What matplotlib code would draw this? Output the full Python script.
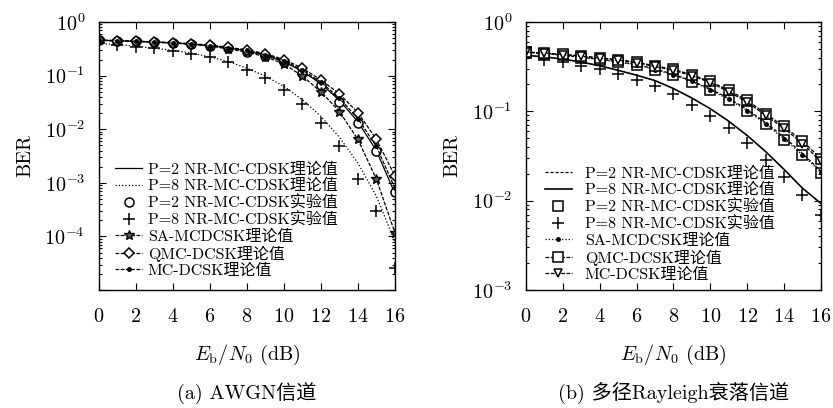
import numpy as np
import matplotlib
matplotlib.use("Agg")
import matplotlib.pyplot as plt
from matplotlib.ticker import LogLocator, NullFormatter


# fonts: computer modern for latin, CJK font as fallback
plt.rcParams['mathtext.fontset'] = 'cm'
plt.rcParams['font.family'] = ['cmr10', 'Noto Sans CJK SC']
plt.rcParams['axes.formatter.use_mathtext'] = True
plt.rcParams['axes.unicode_minus'] = False


# Eb/N0 (dB)
snr = list(range(0, 17))

# (a) AWGN channel
awgn_p2_theory = [0.457, 0.447, 0.437, 0.422, 0.407, 0.389, 0.363, 0.331, 0.288, 0.240, 0.182, 0.120, 0.0708, 0.0347, 0.0138, 0.00398, 0.000631]
awgn_p8_theory = [0.398, 0.380, 0.355, 0.324, 0.295, 0.263, 0.224, 0.182, 0.138, 0.0977, 0.0631, 0.0355, 0.0174, 0.00708, 0.00234, 0.000562, 0.0000794]
awgn_p2_sim = [0.457, 0.447, 0.437, 0.422, 0.407, 0.389, 0.359, 0.324, 0.282, 0.234, 0.178, 0.110, 0.0661, 0.0324, 0.0129, 0.00389, 0.000676]
awgn_p8_sim = [0.398, 0.380, 0.347, 0.324, 0.288, 0.257, 0.219, 0.176, 0.130, 0.0891, 0.0537, 0.0295, 0.0129, 0.00490, 0.00120, 0.000302, 0.0000263]
awgn_sa = [0.457, 0.447, 0.437, 0.422, 0.407, 0.385, 0.355, 0.316, 0.275, 0.224, 0.166, 0.0977, 0.0501, 0.0214, 0.00646, 0.00117, 0.000117]
awgn_qmc = [0.457, 0.452, 0.442, 0.427, 0.412, 0.394, 0.372, 0.339, 0.302, 0.257, 0.200, 0.138, 0.0832, 0.0457, 0.0204, 0.00646, 0.00135]
awgn_mc = [0.457, 0.447, 0.437, 0.422, 0.407, 0.389, 0.363, 0.331, 0.295, 0.245, 0.191, 0.126, 0.0759, 0.0380, 0.0158, 0.00479, 0.000794]

# (b) multipath Rayleigh fading channel
ray_p2_theory = [0.461, 0.445, 0.427, 0.403, 0.385, 0.359, 0.335, 0.299, 0.260, 0.219, 0.178, 0.140, 0.105, 0.0750, 0.0513, 0.0339, 0.0214]
ray_p8_theory = [0.424, 0.407, 0.385, 0.356, 0.324, 0.288, 0.254, 0.221, 0.180, 0.141, 0.107, 0.0776, 0.0537, 0.0355, 0.0224, 0.0138, 0.00933]
ray_p2_sim = [0.461, 0.443, 0.424, 0.398, 0.380, 0.355, 0.331, 0.292, 0.254, 0.214, 0.172, 0.135, 0.100, 0.0714, 0.0482, 0.0321, 0.0204]
ray_p8_sim = [0.398, 0.380, 0.355, 0.324, 0.295, 0.260, 0.226, 0.191, 0.155, 0.119, 0.0891, 0.0646, 0.0447, 0.0288, 0.0186, 0.0117, 0.00692]
ray_sa = [0.461, 0.444, 0.425, 0.400, 0.381, 0.356, 0.332, 0.294, 0.256, 0.216, 0.174, 0.136, 0.102, 0.0724, 0.0490, 0.0326, 0.0208]
ray_qmc = [0.461, 0.450, 0.435, 0.417, 0.398, 0.380, 0.355, 0.324, 0.295, 0.257, 0.216, 0.172, 0.133, 0.0942, 0.0679, 0.0466, 0.0295]
ray_mc = [0.461, 0.449, 0.433, 0.414, 0.394, 0.375, 0.350, 0.318, 0.288, 0.251, 0.210, 0.166, 0.127, 0.0902, 0.0646, 0.0437, 0.0275]

labels = ["P=2 NR-MC-CDSK理论值", "P=8 NR-MC-CDSK理论值",
          "P=2 NR-MC-CDSK实验值", "P=8 NR-MC-CDSK实验值",
          "SA-MCDCSK理论值", "QMC-DCSK理论值", "MC-DCSK理论值"]

awgn_yticks = [1e-5, 1e-4, 1e-3, 1e-2, 1e-1, 1e0]
awgn_yticklabels = ["", "$10^{-4}$", "$10^{-3}$", "$10^{-2}$", "$10^{-1}$", "$10^{0}$"]
ray_yticks = [1e-3, 1e-2, 1e-1, 1e0]
ray_yticklabels = ["$10^{-3}$", "$10^{-2}$", "$10^{-1}$", "$10^{0}$"]

DASH = (0, (3, 1.2))
LW = 0.9


fig = plt.figure(figsize=(8.33, 4.08), dpi=100)
ax1 = fig.add_axes([0.1188, 0.289, 0.3553, 0.657])
ax2 = fig.add_axes([0.6315, 0.289, 0.354, 0.657])


# --- (a) AWGN --- #
ax1.plot(snr, awgn_p2_theory, color="k", lw=LW, ls="-", label=labels[0])
ax1.plot(snr, awgn_p8_theory, color="k", lw=LW, ls=":", label=labels[1])
ax1.plot(snr, awgn_p2_sim, color="k", ls="none", marker="o", ms=6.5, mfc="white", mew=1.1, label=labels[2])
ax1.plot(snr, awgn_p8_sim, color="k", ls="none", marker="+", ms=8, mew=1.1, label=labels[3])
ax1.plot(snr, awgn_sa, color="k", lw=LW, ls=DASH, marker="*", ms=7.5, mfc="0.35", mew=1.0, label=labels[4])
ax1.plot(snr, awgn_qmc, color="k", lw=LW, ls=DASH, marker="D", ms=5.5, mfc="white", mew=1.1, label=labels[5])
ax1.plot(snr, awgn_mc, color="k", lw=LW, ls=DASH, marker=".", ms=5, label=labels[6])

ax1.set_yscale("log")
ax1.set_ylim(1e-5, 1)
ax1.set_yticks(awgn_yticks, labels=awgn_yticklabels)

ax1.legend(loc="lower left", bbox_to_anchor=(0.054, 0.045), frameon=False,
           fontsize=11.5, labelspacing=0.12, handlelength=1.7, handletextpad=0.35,
           borderpad=0, borderaxespad=0, numpoints=1)


# --- (b) Rayleigh --- #
ax2.plot(snr, ray_p2_theory, color="k", lw=LW, ls=(0, (2.5, 1.5)), label=labels[0])
ax2.plot(snr, ray_p8_theory, color="k", lw=1.2, ls="-", label=labels[1])
ax2.plot(snr, ray_p2_sim, color="k", ls="none", marker="s", ms=6.5, mfc="none", mew=1.1, label=labels[2])
ax2.plot(snr, ray_p8_sim, color="k", ls="none", marker="+", ms=8, mew=1.1, label=labels[3])
ax2.plot(snr, ray_sa, color="k", lw=LW, ls=":", marker=".", ms=5, label=labels[4])
ax2.plot(snr, ray_qmc, color="k", lw=LW, ls=DASH, marker="s", ms=6.5, mfc="white", mew=1.1, label=labels[5])
ax2.plot(snr, ray_mc, color="k", lw=LW, ls=DASH, marker="v", ms=6, mfc="white", mew=1.1, label=labels[6])

ax2.set_yscale("log")
ax2.set_ylim(1e-3, 1)
ax2.set_yticks(ray_yticks, labels=ray_yticklabels)

ax2.legend(loc="lower left", bbox_to_anchor=(0.064, 0.03), frameon=False,
           fontsize=11.5, labelspacing=0.12, handlelength=1.7, handletextpad=0.8,
           borderpad=0, borderaxespad=0, numpoints=1)


# common axis styling
for ax in (ax1, ax2):
    ax.set_xlim(0, 16)
    ax.set_xticks(range(0, 17, 2))
    ax.yaxis.set_minor_locator(LogLocator(base=10, subs=range(2, 10), numticks=20))
    ax.yaxis.set_minor_formatter(NullFormatter())
    ax.tick_params(which="both", direction="in", top=True, right=True, width=0.8)
    ax.tick_params(which="major", length=5)
    ax.tick_params(which="minor", length=2.5)
    ax.tick_params(axis="x", labelsize=14.5, pad=13)
    ax.tick_params(axis="y", labelsize=14.5, pad=10)
    for s in ax.spines.values():
        s.set_linewidth(1.0)
    ax.set_xlabel(r"$E_\mathrm{b}/N_0$ (dB)", fontsize=14.5)
    ax.xaxis.label.set_va("center")
    ax.xaxis.set_label_coords(0.5, -0.2425)
    ax.set_ylabel("BER", fontsize=14.5)
    ax.yaxis.label.set_va("center")
    ax.yaxis.set_label_coords(-0.25, 0.5)

# captions
fig.text(0.2965, 0.037, "(a) AWGN信道", ha="center", va="center", fontsize=14.5)
fig.text(0.8085, 0.037, "(b) 多径Rayleigh衰落信道", ha="center", va="center", fontsize=14.5)

plt.savefig("out.png", dpi=100)
